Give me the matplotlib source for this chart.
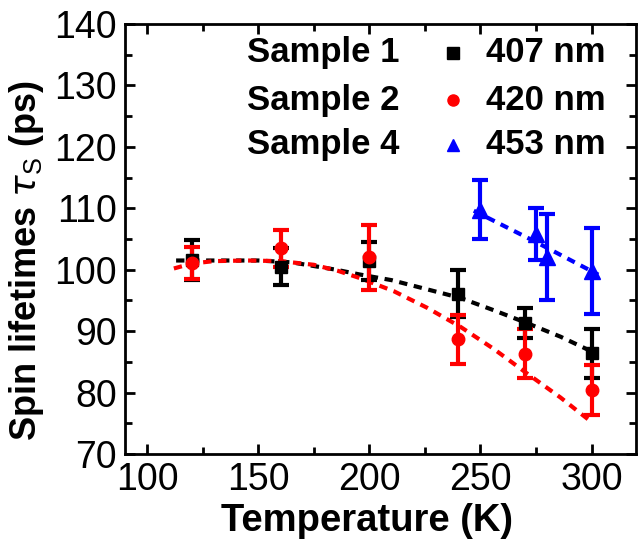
import matplotlib
matplotlib.use("Agg")
import matplotlib.pyplot as plt
from matplotlib.ticker import MultipleLocator

plt.rcParams['font.family'] = ['Liberation Sans', 'DejaVu Sans']
plt.rcParams['mathtext.fontset'] = 'custom'
plt.rcParams['mathtext.rm'] = 'Liberation Sans'

# Sample 1 (407 nm)
t1 = [120, 160, 200, 240, 270, 300]
tau1 = [101.6, 100.5, 101.4, 96.1, 91.3, 86.4]
err1 = [3.3, 3.0, 3.1, 3.8, 2.4, 4.0]

# Sample 2 (420 nm)
t2 = [120, 160, 200, 240, 270, 300]
tau2 = [101.1, 103.5, 102.0, 88.7, 86.3, 80.4]
err2 = [2.6, 3.0, 5.3, 4.0, 4.0, 4.1]

# Sample 4 (453 nm)
t4 = [250, 275, 280, 300]
tau4 = [109.8, 105.8, 102.0, 99.8]
err4 = [4.8, 4.2, 7.0, 7.0]

# fitted trend curves
fit1_t = [113, 130, 150, 165, 175, 185, 196, 210, 225, 241, 256, 271, 286, 300]
fit1_tau = [101.5, 101.5, 101.5, 101.2, 100.6, 100.0, 99.2, 98.3, 96.9, 95.4, 93.4, 91.3, 89.1, 86.7]
fit2_t = [112, 120, 130, 145, 160, 175, 186, 196, 211, 226, 241, 256, 271, 286, 300]
fit2_tau = [100.2, 101.0, 101.4, 101.5, 101.4, 100.8, 99.8, 98.6, 96.5, 93.8, 90.7, 87.1, 83.1, 79.2, 75.2]
fit4_t = [247, 275, 303]
fit4_tau = [109.6, 104.5, 99.2]

samples = ["Sample 1", "Sample 2", "Sample 4"]
wavelengths = ["407 nm", "420 nm", "453 nm"]

fig = plt.figure(figsize=(6.39, 5.48), dpi=100)
ax = fig.add_axes([125/639, 1-454/548, 511/639, 430/548])

dash = (0, (2.0, 1.6))
ax.plot(fit1_t, fit1_tau, color='black', lw=3, linestyle=dash, zorder=2)
ax.plot(fit2_t, fit2_tau, color='red', lw=3, linestyle=dash, zorder=2)
ax.plot(fit4_t, fit4_tau, color='blue', lw=3, linestyle=dash, zorder=2)

ekw = dict(elinewidth=3, capsize=5.5, capthick=3, linestyle='none', zorder=3)
ax.errorbar(t1, tau1, yerr=err1, color='black', marker='s', ms=9, **ekw)
ax.errorbar(t2, tau2, yerr=err2, color='red', marker='o', ms=9, **ekw)
ax.errorbar(t4, tau4, yerr=err4, color='blue', marker='^', ms=11, **ekw)

ax.set_xlim(90, 320)
ax.set_ylim(70, 140)
ax.xaxis.set_major_locator(MultipleLocator(50))
ax.xaxis.set_minor_locator(MultipleLocator(25))
ax.yaxis.set_major_locator(MultipleLocator(10))
ax.yaxis.set_minor_locator(MultipleLocator(5))
ax.tick_params(which='both', direction='in', top=True, right=True, width=2,
               labelsize=27, pad=6)
ax.tick_params(which='major', length=7)
ax.tick_params(which='minor', length=5)
for s in ax.spines.values():
    s.set_linewidth(2)

ax.set_xlabel("Temperature (K)", fontsize=27.5, fontweight='bold')
ax.set_ylabel(r"Spin lifetimes $\tau_{\mathrm{S}}$ (ps)", fontsize=26,
              fontweight='bold')
ax.xaxis.set_label_coords(0.474, -0.115)
ax.yaxis.set_label_coords(-0.155, 0.45)

# key
rows = [0.933, 0.823, 0.719]
markers = [('s', 'black', 8), ('o', 'red', 8), ('^', 'blue', 9)]
for y, name, wl, (m, c, size) in zip(rows, samples, wavelengths, markers):
    ax.text(0.239, y, name, transform=ax.transAxes, fontsize=25,
            fontweight='bold', va='center', ha='left')
    ax.plot([0.642], [y], marker=m, color=c, ms=size, linestyle='none',
            transform=ax.transAxes, clip_on=False)
    ax.text(0.707, y, wl, transform=ax.transAxes, fontsize=25,
            fontweight='bold', va='center', ha='left')

fig.savefig("out.png", dpi=100)
